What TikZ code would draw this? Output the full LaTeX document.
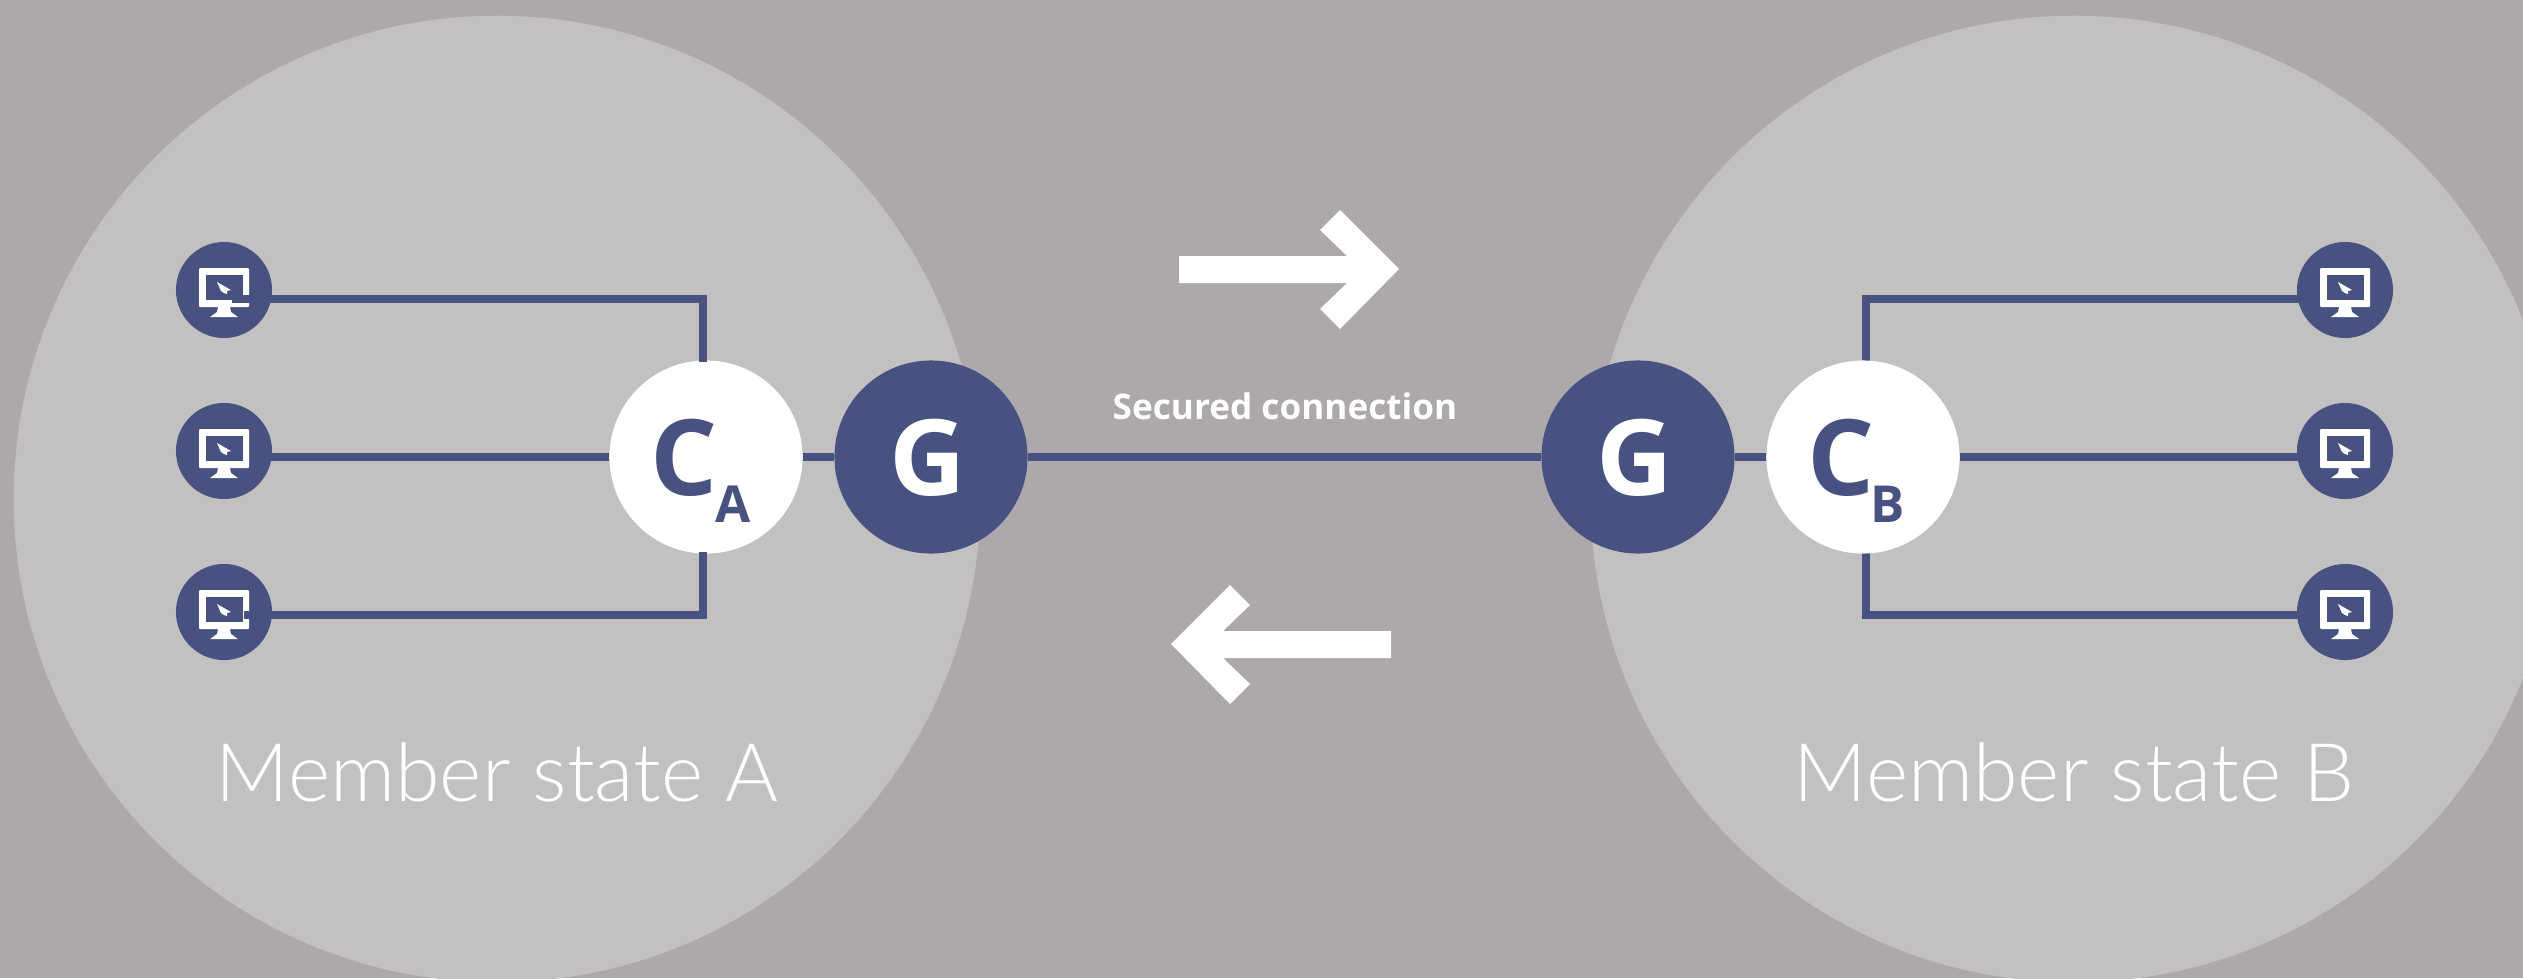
\documentclass[tikz,border=0pt]{standalone}
\usepackage{fontspec}
\setmainfont{Open Sans}
\newfontfamily\lightf[UprightFont={* Light}]{Lato}
\usetikzlibrary{calc}
\pgfdeclarelayer{back}
\pgfdeclarelayer{mid}
\pgfsetlayers{back,mid,main}
\definecolor{bgc}{HTML}{ACA8AB}
\definecolor{disc}{HTML}{C2C0C1}
\definecolor{navy}{HTML}{475280}
\tikzset{
  x=0.01cm,y=-0.01cm,
  region/.style={circle,fill=disc,draw=none,minimum size=9.66cm,inner sep=0},
  hub/.style={circle,draw=none,minimum size=1.93cm,inner sep=0},
  bigletter/.style={inner sep=0,font=\bfseries\fontsize{30pt}{30pt}\selectfont},
  subletter/.style={inner sep=0,text=navy,font=\bfseries\fontsize{14.5pt}{15pt}\selectfont},
  station/.style={circle,fill=navy,draw=none,minimum size=0.96cm,inner sep=0},
  link/.style={draw=navy,line width=0.084cm},
  regionlabel/.style={text=white,font=\lightf\fontsize{23pt}{24pt}\selectfont},
  bigarrow/.style={fill=white,draw=none},
  pics/monitor/.style={code={
    \fill[white,rounded corners=0.01cm] (-25,-22) rectangle (25,17);
    \fill[navy] (-18,-15) rectangle (19,10);
    \fill[white] (-6,17) -- (6,17) -- (7,22) -- (14,27) -- (-14,27) -- (-7,22) -- cycle;
    \fill[white] (-7,-8) -- (7,0) -- (3,1) -- (3,4) -- (0,3) -- (-3,1) -- cycle;
  }}
}
\begin{document}
\begin{tikzpicture}
\useasboundingbox (0,0) rectangle (2523,978);
\clip (0,0) rectangle (2523,978);
\begin{pgfonlayer}{back}
  \fill[bgc] (0,0) rectangle (2523,978);
  \node[region] (ra) at (497,499) {};
  \node[region] (rb) at (2074,499) {};
\end{pgfonlayer}

% stations
\node[station] (a1) at (224,290) {}; \pic at (a1) {monitor};
\node[station] (a2) at (224,451) {}; \pic at (a2) {monitor};
\node[station] (a3) at (224,612) {}; \pic at (a3) {monitor};
\node[station] (b1) at (2345,290) {}; \pic at (b1) {monitor};
\node[station] (b2) at (2345,451) {}; \pic at (b2) {monitor};
\node[station] (b3) at (2345,612) {}; \pic at (b3) {monitor};

% hubs
\node[hub,fill=white] (ca) at (706,457) {};
\node[hub,fill=navy] (ga) at (931,457) {};
\node[hub,fill=navy] (gb) at (1638,457) {};
\node[hub,fill=white] (cb) at (1863,457) {};
\node[bigletter,text=white] (gal) at (928,458) {G};
\node[bigletter,text=white] (gbl) at (1635,458) {G};
\node[bigletter,text=navy] (cal) at (684,458) {C};
\node[subletter] (cas) at (733,504) {A};
\node[bigletter,text=navy] (cbl) at (1841,458) {C};
\node[subletter] (cbs) at (1888,504) {B};

% connector ends
\coordinate (a1e) at (232,299);
\coordinate (a2e) at (224,457);
\coordinate (a3e) at (244,615);
\coordinate (b1e) at (2345,299);
\coordinate (b2e) at (2345,457);
\coordinate (b3e) at (2345,615);
\coordinate (cat) at (703,362);
\coordinate (cab) at (703,552);
\coordinate (cbt) at (1866,362);
\coordinate (cbb) at (1866,552);

\begin{pgfonlayer}{mid}
  \draw[link] (a2e) -- (ca);
  \draw[link] (b1e) -| (cbt);
  \draw[link] (b2e) -- (cb);
  \draw[link] (b3e) -| (cbb);
  \draw[link] (ca) -- (ga);
  \draw[link] (ga) -- (gb);
  \draw[link] (gb) -- (cb);
\end{pgfonlayer}
\draw[link] (a1e) -| (cat);
\draw[link] (a3e) -| (cab);

% arrows
\fill[bigarrow] (1179,256) -- (1347,256) -- (1320,230) -- (1340,210) -- (1399,269) -- (1340,329) -- (1320,309) -- (1347,283) -- (1179,283) -- cycle;
\fill[bigarrow] (1391,631) -- (1223,631) -- (1250,605) -- (1230,585) -- (1171,644) -- (1230,704) -- (1250,684) -- (1223,658) -- (1391,658) -- cycle;

% labels
\node[text=white,font=\bfseries\fontsize{10pt}{11pt}\selectfont] (sec) at (1285,406) {Secured connection};
\node[regionlabel] (la) at (497,772) {Member state A};
\node[regionlabel] (lb) at (2074,772) {Member state B};
\end{tikzpicture}
\end{document}
